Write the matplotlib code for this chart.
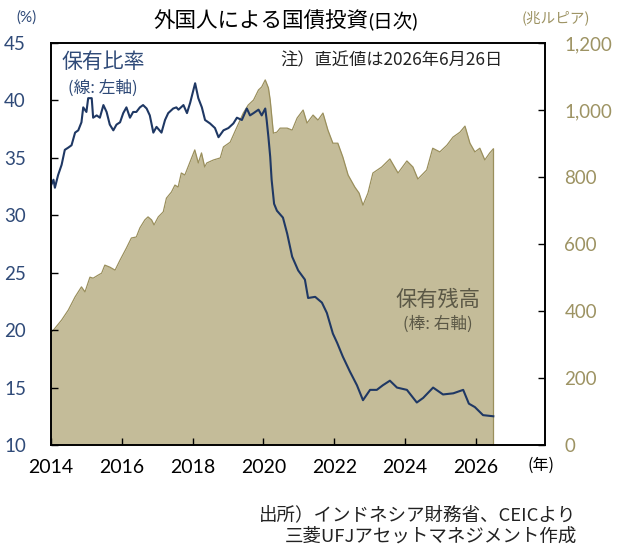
import matplotlib
matplotlib.use("Agg")
import matplotlib.pyplot as plt
from matplotlib.ticker import FuncFormatter, FixedLocator

plt.rcParams['font.family'] = ['Lato', 'Noto Sans CJK JP', 'DejaVu Sans']

# 保有比率 (%) - left axis
ratio_t = [2014.00, 2014.07, 2014.11, 2014.20, 2014.30, 2014.39, 2014.49, 2014.58, 2014.68, 2014.77,
           2014.86, 2014.91, 2015.00, 2015.05, 2015.15, 2015.19, 2015.29, 2015.38, 2015.48, 2015.57,
           2015.66, 2015.76, 2015.85, 2015.95, 2016.04, 2016.13, 2016.23, 2016.32, 2016.41, 2016.51,
           2016.60, 2016.70, 2016.79, 2016.89, 2016.98, 2017.12, 2017.22, 2017.31, 2017.45, 2017.54,
           2017.60, 2017.74, 2017.84, 2017.93, 2018.07, 2018.16, 2018.26, 2018.35, 2018.49, 2018.63,
           2018.73, 2018.87, 2019.01, 2019.15, 2019.25, 2019.39, 2019.53, 2019.62, 2019.72, 2019.86,
           2019.95, 2020.05, 2020.09, 2020.14, 2020.19, 2020.23, 2020.30, 2020.38, 2020.55, 2020.67,
           2020.81, 2020.98, 2021.17, 2021.26, 2021.46, 2021.65, 2021.79, 2021.96, 2022.08, 2022.24,
           2022.44, 2022.64, 2022.81, 2023.01, 2023.20, 2023.37, 2023.57, 2023.77, 2024.05, 2024.33,
           2024.51, 2024.79, 2025.07, 2025.36, 2025.64, 2025.80, 2025.97, 2026.20, 2026.49]
ratio_v = [32.6, 33.1, 32.4, 33.5, 34.4, 35.7, 35.9, 36.1, 37.2, 37.4,
           38.1, 39.4, 39.0, 40.2, 40.2, 38.5, 38.7, 38.5, 39.6, 39.0,
           37.9, 37.4, 37.9, 38.1, 38.9, 39.4, 38.5, 39.0, 39.0, 39.4,
           39.6, 39.3, 38.7, 37.2, 37.7, 37.2, 38.3, 38.9, 39.3, 39.4,
           39.2, 39.6, 38.9, 39.8, 41.5, 40.2, 39.4, 38.3, 38.0, 37.6,
           36.8, 37.4, 37.6, 38.0, 38.5, 38.3, 39.3, 38.7, 38.9, 39.2,
           38.7, 39.3, 38.3, 36.8, 35.1, 33.1, 31.0, 30.4, 29.8, 28.4,
           26.4, 25.2, 24.4, 22.8, 22.9, 22.4, 21.5, 19.7, 18.9, 17.7,
           16.4, 15.2, 13.9, 14.8, 14.8, 15.2, 15.6, 15.0, 14.8, 13.7,
           14.1, 15.0, 14.4, 14.5, 14.8, 13.6, 13.3, 12.6, 12.5]

# 保有残高 (兆ルピア) - right axis
hold_t = [2014.00, 2014.30, 2014.49, 2014.68, 2014.86, 2014.96, 2015.10, 2015.19, 2015.33, 2015.43,
          2015.52, 2015.66, 2015.81, 2015.95, 2016.13, 2016.27, 2016.41, 2016.51, 2016.65, 2016.74,
          2016.84, 2016.91, 2017.03, 2017.17, 2017.26, 2017.40, 2017.50, 2017.59, 2017.68, 2017.78,
          2017.87, 2018.06, 2018.16, 2018.25, 2018.34, 2018.40, 2018.59, 2018.78, 2018.87, 2019.06,
          2019.25, 2019.43, 2019.57, 2019.72, 2019.86, 2019.95, 2020.05, 2020.14, 2020.19, 2020.28,
          2020.38, 2020.47, 2020.67, 2020.81, 2020.95, 2021.12, 2021.23, 2021.40, 2021.54, 2021.68,
          2021.82, 2021.96, 2022.10, 2022.24, 2022.39, 2022.58, 2022.70, 2022.81, 2022.95, 2023.09,
          2023.34, 2023.57, 2023.80, 2024.05, 2024.22, 2024.36, 2024.61, 2024.78, 2024.98, 2025.18,
          2025.35, 2025.55, 2025.69, 2025.83, 2025.97, 2026.11, 2026.25, 2026.39, 2026.49]
hold_v = [334, 373, 403, 442, 472, 457, 501, 498, 507, 513,
          537, 531, 522, 552, 588, 618, 621, 648, 672, 681,
          672, 657, 681, 696, 737, 755, 776, 770, 812, 806,
          830, 881, 842, 872, 830, 842, 851, 857, 890, 904,
          949, 991, 1015, 1030, 1060, 1069, 1090, 1066, 1030, 931,
          934, 946, 946, 940, 976, 1000, 961, 985, 970, 991,
          940, 901, 901, 860, 806, 770, 752, 716, 752, 812,
          830, 854, 812, 848, 830, 794, 821, 886, 875, 895,
          919, 934, 952, 901, 875, 886, 851, 872, 884]

left_ticks = [10, 15, 20, 25, 30, 35, 40, 45]
right_ticks = [0, 200, 400, 600, 800, 1000, 1200]
x_ticks = [2014, 2016, 2018, 2020, 2022, 2024, 2026]

NAVY = '#1f3864'
NAVY_TXT = '#2f4a78'
FILL = '#c4bc99'
EDGE = '#9a8f5c'
OLIVE_TXT = '#9d9363'
CJK = ['Noto Sans CJK JP']

fig = plt.figure(figsize=(6.25, 5.45), dpi=100)
ax2 = fig.add_axes([0.0816, 0.1835, 0.7904, 0.7375])
ax1 = ax2.twinx()
ax1.yaxis.tick_left()
ax2.yaxis.tick_right()
ax1.set_zorder(ax2.get_zorder() + 1)
ax1.patch.set_visible(False)

ax2.fill_between(hold_t, 0, hold_v, color=FILL, lw=0)
ax2.plot(hold_t, hold_v, color=EDGE, lw=0.9)
ax2.plot([hold_t[-1], hold_t[-1]], [0, hold_v[-1]], color=EDGE, lw=0.9)
ax2.set_ylim(0, 1200)
ax2.set_xlim(2014, 2027.95)
ax2.yaxis.set_major_locator(FixedLocator(right_ticks))
ax2.yaxis.set_major_formatter(FuncFormatter(lambda v, p: f'{int(v):,}'))
ax2.tick_params(axis='y', direction='in', length=5, width=1, colors='black',
                labelcolor=OLIVE_TXT, labelsize=13.5, pad=14, right=True, left=False)
ax2.set_xticks(x_ticks)
ax2.tick_params(axis='x', direction='in', length=5, width=1, labelsize=14, pad=10)

ax1.plot(ratio_t, ratio_v, color=NAVY, lw=1.5)
ax1.set_ylim(10, 45)
ax1.yaxis.set_major_locator(FixedLocator(left_ticks))
ax1.tick_params(axis='y', direction='in', length=5, width=1, colors='black',
                labelcolor=NAVY_TXT, labelsize=13.5, pad=18, left=True, right=False)

for ax in (ax1, ax2):
    for s in ax.spines.values():
        s.set_color('black')
        s.set_linewidth(1.2)

fig.text(0.589, 0.960, '外国人による国債投資', ha='right', va='center', fontsize=15.5, family=CJK)
fig.text(0.589, 0.960, '(日次)', ha='left', va='center', fontsize=14,
         family=['Lato', 'Noto Sans CJK JP'])
fig.text(0.042, 0.967, '(%)', ha='center', va='center', fontsize=11, color=NAVY_TXT)
fig.text(0.89, 0.967, '(兆ルピア)', ha='center', va='center', fontsize=10.5, color=OLIVE_TXT,
         family=CJK)
fig.text(0.866, 0.147, '(年)', ha='center', va='center', fontsize=11.5, family=CJK)

fig.text(0.165, 0.886, '保有比率', ha='center', va='center', fontsize=15, color=NAVY_TXT,
         family=CJK)
fig.text(0.165, 0.839, '(線: 左軸)', ha='center', va='center', fontsize=12, color=NAVY_TXT,
         family=CJK)
fig.text(0.626, 0.889, '注）直近値は2026年6月26日', ha='center', va='center', fontsize=12.4,
         color='#222222', family=CJK)
fig.text(0.700, 0.450, '保有残高', ha='center', va='center', fontsize=15.3, color='#5b5846',
         family=CJK)
fig.text(0.700, 0.405, '(棒: 右軸)', ha='center', va='center', fontsize=12, color='#5b5846',
         family=CJK)

fig.text(0.922, 0.055, '出所）インドネシア財務省、CEICより', ha='right', va='center', fontsize=13.3,
         color='#222222', family=CJK)
fig.text(0.924, 0.015, '三菱UFJアセットマネジメント作成', ha='right', va='center', fontsize=13.3,
         color='#222222', family=CJK)

fig.savefig('out.png', dpi=100)
